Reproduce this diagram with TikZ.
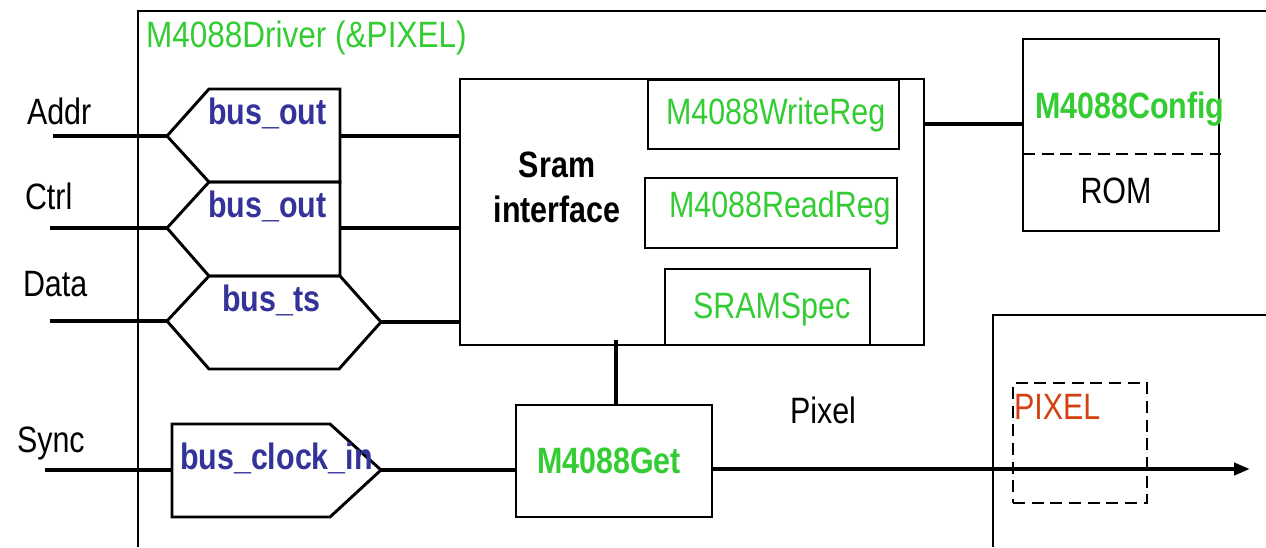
\documentclass[tikz,border=0pt]{standalone}
\usepackage{fontspec}
\setmainfont[FakeStretch=0.83]{Liberation Sans}
\newfontfamily\titlefont[FakeStretch=0.86]{Liberation Sans}
\usetikzlibrary{arrows.meta,fit}
\definecolor{tgreen}{HTML}{33CC33}
\definecolor{tblue}{HTML}{333399}
\definecolor{tred}{HTML}{D4400F}
\tikzset{
  txt/.style={font=\fontsize{27.5}{30}\selectfont, inner sep=0pt, outer sep=0pt},
  boldtxt/.style={txt, font=\fontsize{27.5}{30}\selectfont\bfseries},
  boxs/.style={draw, line width=2.2pt, inner sep=0pt, outer sep=0pt},
  frame/.style={draw, line width=2.2pt},
  busshape/.style={draw, line width=2.2pt, line join=miter},
  conn/.style={draw, line width=3pt},
  dashbox/.style={draw, line width=2.2pt, dash pattern=on 9pt off 5pt}
}
\begin{document}
\begin{tikzpicture}[x=0.75pt,y=-0.75pt]
\useasboundingbox (0,0) rectangle (1266,547);
% outer frames
\draw[frame] (138,547) -- (138,11) -- (1266,11);
\draw[frame] (993,547) -- (993,315) -- (1266,315);
\node[txt, font=\titlefont\fontsize{27.5}{30}\selectfont, text=tgreen, anchor=base west] (title) at (146,47) {M4088Driver (\&PIXEL)};

% input labels
\node[txt, anchor=base west] (laddr) at (27,124) {Addr};
\node[txt, anchor=base west] (lctrl) at (25,209) {Ctrl};
\node[txt, anchor=base west] (ldata) at (23,296) {Data};
\node[txt, anchor=base west] (lsync) at (17,452) {Sync};

% bus shapes
\draw[busshape] (167,136) -- (209,89) -- (340,89) -- (340,182) -- (209,182) -- cycle;
\draw[busshape] (167,228) -- (209,182) -- (340,182) -- (340,276) -- (209,276) -- cycle;
\draw[busshape] (167,321) -- (209,276) -- (340,276) -- (381,322) -- (339,369) -- (209,369) -- cycle;
\draw[busshape] (172,424) -- (330,424) -- (381,470) -- (330,517) -- (172,517) -- cycle;
\coordinate (bo1in) at (167,136);  \coordinate (bo1out) at (340,136);
\coordinate (bo2in) at (167,228);  \coordinate (bo2out) at (340,228);
\coordinate (btsin) at (167,321);  \coordinate (btsout) at (381,322);
\coordinate (bckin) at (172,470);  \coordinate (bckout) at (381,470);
\node[boldtxt, text=tblue, anchor=base west] (tbo1) at (208,124) {bus\_out};
\node[boldtxt, text=tblue, anchor=base west] (tbo2) at (208,217) {bus\_out};
\node[boldtxt, text=tblue, anchor=base west] (tbts) at (222,311) {bus\_ts};
\node[boldtxt, text=tblue, anchor=base west] (tbck) at (180,469) {bus\_clock\_in};

% input wires
\coordinate (addr) at (53,136);
\coordinate (ctrl) at (50,228);
\coordinate (data) at (50,321);
\coordinate (sync) at (45,470);
\draw[conn] (addr) -- (bo1in);
\draw[conn] (ctrl) -- (bo2in);
\draw[conn] (data) -- (btsin);
\draw[conn] (sync) -- (bckin);

% Sram interface
\node[boxs, fit={(460,79) (924,345)}] (sram) {};
\node[boldtxt, anchor=base] (sramt1) at (557,177) {Sram};
\node[boldtxt, anchor=base] (sramt2) at (557,222) {interface};
\node[boxs, fit={(648,80) (899,149)}] (wreg) {};
\node[txt, text=tgreen, anchor=base west] (wregt) at (666,124) {M4088WriteReg};
\node[boxs, fit={(645,178) (897,248)}] (rreg) {};
\node[txt, text=tgreen, anchor=base west] (rregt) at (669,217) {M4088ReadReg};
\node[boxs, fit={(665,269) (870,345)}] (sspec) {};
\node[txt, text=tgreen, anchor=base west] (sspect) at (693,318) {SRAMSpec};

\draw[conn] (bo1out) -- (bo1out -| sram.west);
\draw[conn] (bo2out) -- (bo2out -| sram.west);
\draw[conn] (btsout) -- (btsout -| sram.west);

% Config / ROM
\node[boxs, fit={(1023,39) (1219,231)}] (config) {};
\draw[dashbox] (config.west |- 0,154) -- (1221,154);
\node[boldtxt, text=tgreen, anchor=base west] (configt) at (1035,118) {M4088Config};
\node[txt, anchor=base] (romt) at (1116,203) {ROM};
\coordinate (cfgy) at (924,124);
\draw[conn] (cfgy -| sram.east) -- (cfgy -| config.west);

% M4088Get
\node[boxs, fit={(516,405) (712,517)}] (get) {};
\node[boldtxt, text=tgreen, anchor=base west] (gett) at (537,473) {M4088Get};
\coordinate (vx) at (616,340);
\draw[conn] (vx) -- (vx |- get.north);
\draw[conn] (bckout) -- (bckout -| get.west);

% Pixel output
\coordinate (pixend) at (1250,469);
\draw[conn, -{Triangle[length=12pt,width=9pt]}] (pixend -| get.east) -- (pixend);
\node[txt, anchor=base west] (pixt) at (790,423) {Pixel};

% PIXEL dashed box
\node[dashbox, inner sep=0pt, outer sep=0pt, fit={(1013,383) (1147,503)}] (pixbox) {};
\node[txt, text=tred, anchor=base west] (pixelt) at (1014,419) {PIXEL};
\end{tikzpicture}
\end{document}
